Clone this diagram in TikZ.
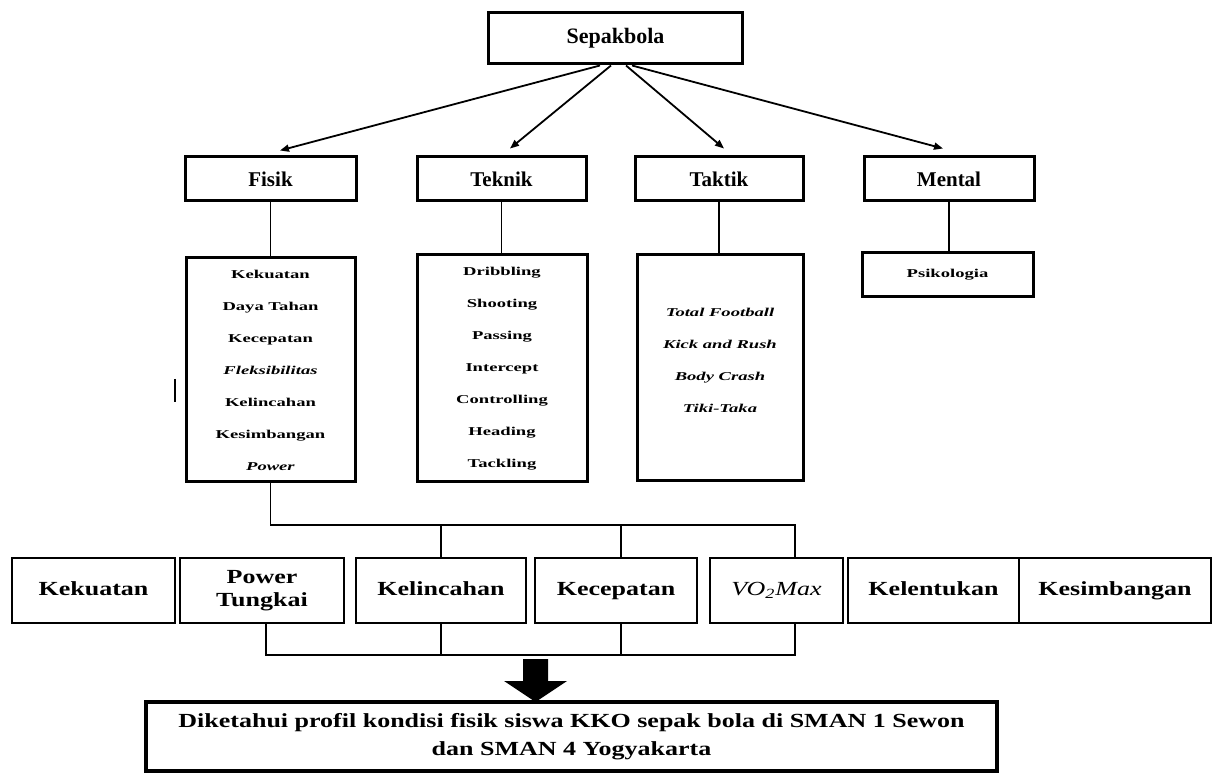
\documentclass[tikz,border=0pt]{standalone}
\usepackage{fontspec}
\setmainfont{Liberation Serif}
\newfontfamily\stretchfont[FakeStretch=1.3]{Liberation Serif}
\newfontfamily\widefont[FakeStretch=1.55]{Liberation Serif}
\usetikzlibrary{arrows.meta, positioning, calc}

\begin{document}
\begin{tikzpicture}[x=0.5pt, y=-0.5pt,
		box/.style={draw, line width=1.5pt, inner sep=0pt, minimum height=22pt, font=\bfseries\fontsize{10.5}{12}\selectfont},
		listtext/.style={inner sep=0pt, align=center, font=\widefont\bfseries\fontsize{6}{16}\selectfont},
		listbox/.style={listtext, draw, line width=1.5pt},
		varbox/.style={draw, line width=0.9pt, inner sep=0pt, minimum height=32.5pt, align=center, font=\stretchfont\bfseries\fontsize{10}{11.5}\selectfont},
		oneline/.style={varbox, text height=7pt, text depth=2.2pt},
		link/.style={line width=0.9pt},
		myarrow/.tip={Triangle[length=4.5pt, width=3.5pt]},
	]
		\useasboundingbox (0,0) rectangle (1212,775);
		% top level
		\node[box, minimum width=127pt, minimum height=25.5pt, font=\bfseries\fontsize{11}{13}\selectfont] (sepak) at (615.5,38.5) {Sepakbola};
		\node[box, minimum width=85.5pt] (fisik) at (270.5,179) {Fisik};
		\node[box, minimum width=84.5pt] (teknik) at (501.5,179) {Teknik};
		\node[box, minimum width=84pt] (taktik) at (719,179) {Taktik};
		\node[box, minimum width=85pt] (mental) at (949,179) {Mental};

		\draw[-myarrow, link] ([xshift=-7.75pt]sepak.south) -- ([xshift=4.75pt, yshift=2.5pt]fisik.north);
		\draw[-myarrow, link] ([xshift=-2.25pt]sepak.south) -- ([xshift=4.25pt, yshift=3.5pt]teknik.north);
		\draw[-myarrow, link] ([xshift=5.25pt]sepak.south) -- ([xshift=2.5pt, yshift=3.5pt]taktik.north);
		\draw[-myarrow, link] ([xshift=8.25pt]sepak.south) -- ([xshift=-3pt, yshift=3.5pt]mental.north);

		% lists
		\node[listbox, minimum width=84.5pt, minimum height=112pt] (fisiklist) at (270.5,370)
			{Kekuatan\\Daya Tahan\\Kecepatan\\\textit{Fleksibilitas}\\Kelincahan\\Kesimbangan\\\textit{Power}};
		\node[listbox, minimum width=85pt, minimum height=113.5pt] (teknlist) at (502,368.5)
			{Dribbling\\Shooting\\Passing\\Intercept\\Controlling\\Heading\\Tackling};
		\node[listbox, minimum width=83pt, minimum height=113pt] (taktiklist) at (720,368) {};
		\node[listtext, font=\widefont\bfseries\itshape\fontsize{6}{16}\selectfont] (taktikitems) at (720,360.5)
			{Total Football\\Kick and Rush\\Body Crash\\Tiki-Taka};
		\node[listbox, minimum width=85.5pt, minimum height=22pt] (psiko) at (947.5,275) {Psikologia};

		\draw[link] (fisik) -- (fisiklist);
		\draw[link] (teknik.south) -- (teknik.south |- teknlist.north);
		\draw[link] (taktik.south) -- (taktik.south |- taktiklist.north);
		\draw[link] (mental.south) -- (mental.south |- psiko.north);
		\draw[line width=1pt] (175,379) -- (175,402);

		% variables
		\node[oneline, minimum width=81.5pt] (kekuatan) at (93.5,590.5) {Kekuatan};
		\node[varbox, minimum width=82pt] (power) at (262,590.5) {Power\\Tungkai};
		\node[oneline, minimum width=85pt] (kelincahan) at (441,590.5) {Kelincahan};
		\node[oneline, minimum width=81pt] (kecepatan) at (616,590.5) {Kecepatan};
		\node[oneline, minimum width=66.5pt, font=\stretchfont\itshape\fontsize{10}{11.5}\selectfont] (vo2) at (776.5,590.5) {VO\textsubscript{2}Max};
		\node[oneline, minimum width=85.5pt] (kelentukan) at (933.5,590.5) {Kelentukan};
		\node[oneline, minimum width=96pt] (kesimbangan) at (1115,590.5) {Kesimbangan};

		\coordinate (bustop) at (0,525);
		\coordinate (busbot) at (0,655);
		\draw[link] (fisiklist.south) -- (fisiklist.south |- bustop) -| ([xshift=9.25pt]vo2.north);
		\draw[link] (kelincahan.north |- bustop) -- (kelincahan.north);
		\draw[link] ([xshift=2.5pt]kecepatan.north |- bustop) -- ([xshift=2.5pt]kecepatan.north);
		\draw[link] ([xshift=2pt]power.south) |- ([xshift=9.25pt]vo2.south |- busbot) -- ([xshift=9.25pt]vo2.south);
		\draw[link] (kelincahan.south) -- (kelincahan.south |- busbot);
		\draw[link] ([xshift=2.5pt]kecepatan.south) -- ([xshift=2.5pt]kecepatan.south |- busbot);

		% result
		\node[draw, line width=2pt, minimum width=425.5pt, minimum height=34.5pt, inner sep=0pt, align=center,
			font=\stretchfont\bfseries\fontsize{10}{14}\selectfont] (result) at (571.5,736.5)
			{Diketahui profil kondisi fisik siswa KKO sepak bola di SMAN 1 Sewon\\dan SMAN 4 Yogyakarta};
		\fill (523,659) -- (548,659) -- (548,681) -- (567,681) -- (535.5,702) -- (504,681) -- (523,681) -- cycle;
	\end{tikzpicture}
\end{document}
